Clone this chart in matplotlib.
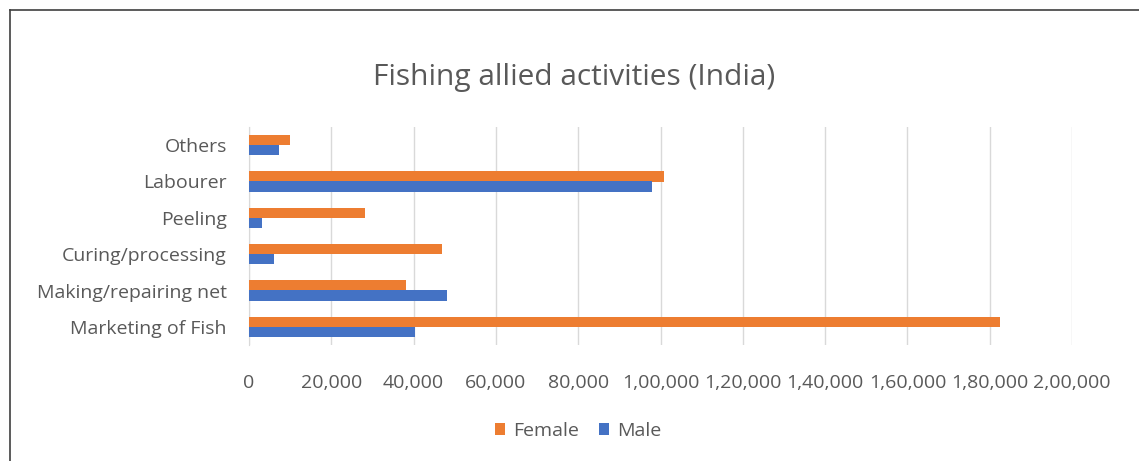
import matplotlib.pyplot as plt
from matplotlib.lines import Line2D
from matplotlib.ticker import FuncFormatter
import numpy as np

categories = ['Marketing of Fish', 'Making/repairing net', 'Curing/processing',
              'Peeling', 'Labourer', 'Others']
female = [182600, 38100, 46800, 28100, 100900, 9900]
male = [40300, 48000, 6100, 3100, 97900, 7200]
ticks = list(range(0, 200001, 20000))

W, H = 1139, 461


def indian(v, pos=None):
    n = int(round(v))
    s = str(n)
    if len(s) <= 3:
        return s
    last3 = s[-3:]
    rest = s[:-3]
    groups = []
    while len(rest) > 2:
        groups.insert(0, rest[-2:])
        rest = rest[:-2]
    if rest:
        groups.insert(0, rest)
    return ','.join(groups) + ',' + last3


plt.rcParams['font.family'] = ['Open Sans', 'DejaVu Sans']
fig = plt.figure(figsize=(W / 100, H / 100), dpi=100)
ax = fig.add_axes([249 / W, 1 - 345 / H, (1072 - 249) / W, (345 - 127) / H])

y = np.arange(len(categories))
bh = 0.28
ax.barh(y + bh / 2, female, height=bh, color='#ED7D31', label='Female', zorder=3)
ax.barh(y - bh / 2, male, height=bh, color='#4472C4', label='Male', zorder=3)

ax.set_xlim(0, 200000)
ax.set_ylim(-0.5, len(categories) - 0.5)
ax.set_xticks(ticks)
ax.xaxis.set_major_formatter(FuncFormatter(indian))
ax.set_yticks(y)
ax.set_yticklabels(categories)
ax.tick_params(axis='both', length=0, labelsize=14, colors='#595959')
ax.tick_params(axis='x', pad=21)
ax.tick_params(axis='y', pad=16)
ax.grid(axis='x', color='#D9D9D9', linewidth=1, zorder=0)
for s in ['top', 'right', 'bottom']:
    ax.spines[s].set_visible(False)
ax.spines['left'].set_color('#D9D9D9')

fig.text(574 / W, 1 - 77 / H, 'Fishing allied activities (India)',
         ha='center', va='center', fontsize=21.5, color='#595959')

ax.legend(loc='center', bbox_to_anchor=(578 / W, 1 - 431 / H), bbox_transform=fig.transFigure,
          ncol=2, frameon=False, fontsize=14, labelcolor='#595959',
          handlelength=0.55, handleheight=0.55, handletextpad=0.4, columnspacing=1.0)

fig.add_artist(Line2D([10 / W, 1], [1 - 10 / H, 1 - 10 / H], transform=fig.transFigure,
                      color='#404040', linewidth=1.2))
fig.add_artist(Line2D([10 / W, 10 / W], [0, 1 - 10 / H], transform=fig.transFigure,
                      color='#404040', linewidth=1.2))

fig.savefig('out.png', dpi=100)
